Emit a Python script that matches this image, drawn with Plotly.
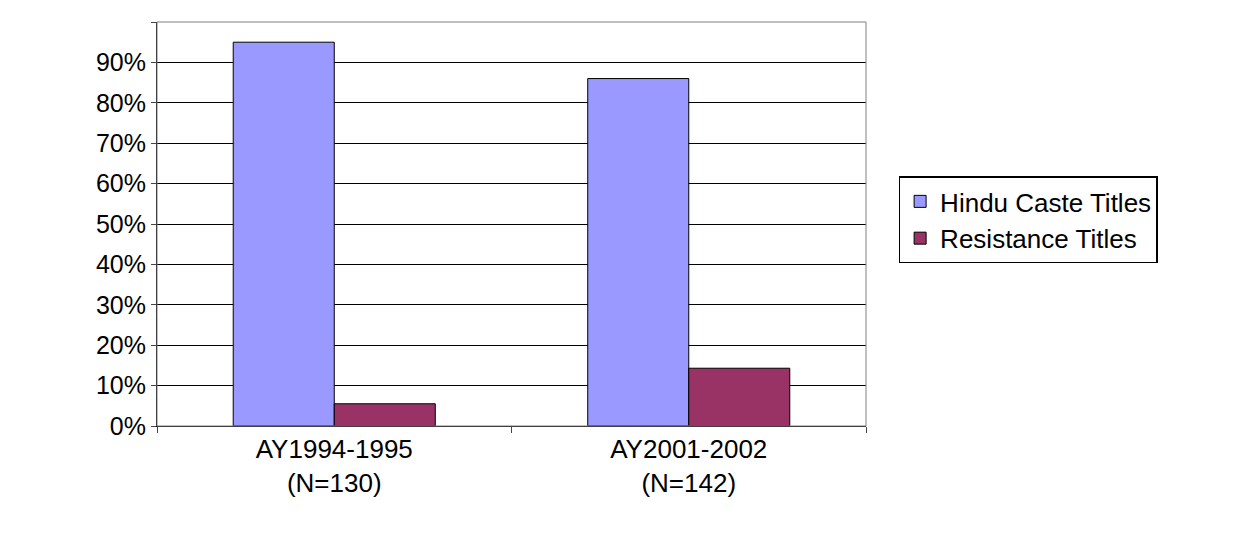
import plotly.graph_objects as go

categories = ["AY1994-1995<br>(N=130)", "AY2001-2002<br>(N=142)"]
hindu = [0.95, 0.86]
resistance = [0.055, 0.143]
yticks = [i/10 for i in range(11)]
ytext = [f"{i*10}%" for i in range(11)]

fig = go.Figure()
fig.add_bar(x=categories, y=hindu, name="Hindu Caste Titles",
            marker=dict(color="#9999FF", line=dict(color="black", width=1)))
fig.add_bar(x=categories, y=resistance, name="Resistance Titles",
            marker=dict(color="#993366", line=dict(color="black", width=1)))
fig.update_layout(
    width=1257, height=554, barmode="group", bargap=0.43, bargroupgap=0,
    paper_bgcolor="white", plot_bgcolor="white",
    margin=dict(l=149, r=399, t=14, b=136),
    font=dict(family="Liberation Sans, Arial", size=25, color="black"),
    legend=dict(x=1.046, y=0.51, xanchor="left", yanchor="middle",
                bordercolor="black", borderwidth=1.5, font=dict(size=26),
                tracegroupgap=10),
    shapes=[dict(type="rect", xref="paper", yref="paper", x0=0, x1=1, y0=0, y1=1,
                 line=dict(color="#808080", width=1))],
)
fig.update_yaxes(range=[0, 1], tickvals=yticks, ticktext=ytext, showgrid=True,
                 gridcolor="black", gridwidth=1, ticks="outside", ticklen=5,
                 showline=True, linecolor="black", zeroline=False)
fig.update_xaxes(ticks="outside", tickson="boundaries", ticklen=6, showline=True,
                 linecolor="black", tickfont=dict(size=26))
fig.write_html("out.html")
